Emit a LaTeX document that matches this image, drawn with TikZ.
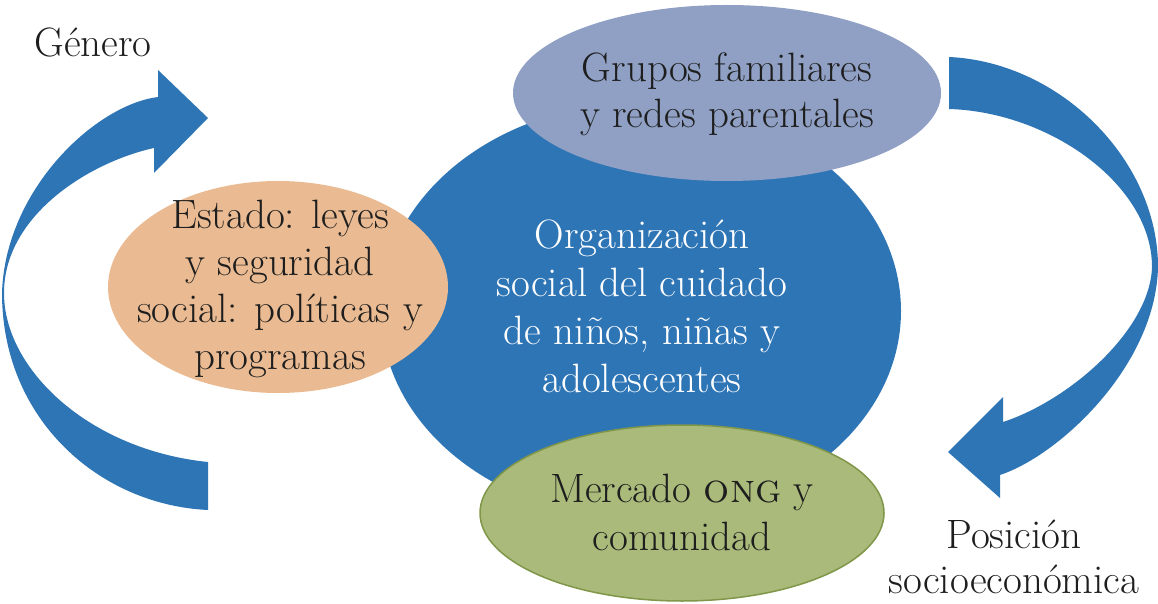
\documentclass[tikz,border=0pt]{standalone}
\usepackage{fontspec}
\usetikzlibrary{shapes.geometric}
\definecolor{blueA}{RGB}{46,117,182}
\definecolor{greyA}{RGB}{143,160,196}
\definecolor{orangeA}{RGB}{234,187,146}
\definecolor{greenA}{RGB}{169,186,122}
\definecolor{greenB}{RGB}{128,150,72}
\definecolor{inkA}{RGB}{30,30,30}
\newcommand{\mylines}[2]{{\fontsize{41}{#1}\selectfont\begin{tabular}[t]{@{}c@{}}#2\end{tabular}}}
\begin{document}
\begin{tikzpicture}[x=1pt,y=-1pt,
  blob/.style={ellipse, inner sep=0pt, draw=none},
  txt/.style={inner sep=0pt, anchor=base, text=inkA},
  wtxt/.style={inner sep=0pt, anchor=base, text=white},
  bigarrow/.style={fill=blueA, draw=none}]
\useasboundingbox (0,0) rectangle (1158,604);
% ellipses
\node[blob, fill=blueA, minimum width=520pt, minimum height=416pt] (centro) at (641,311) {};
\node[blob, fill=greyA, minimum width=428pt, minimum height=176pt] (familia) at (727,93) {};
\node[blob, fill=orangeA, minimum width=340pt, minimum height=212pt] (estado) at (278,287) {};
\node[blob, fill=greenA, draw=greenB, line width=1.5pt, minimum width=404pt, minimum height=176pt] (mercado) at (682,513) {};
% texts
\node[wtxt] (centroT) at (642,248) {\mylines{48.3}{Organización\\social del cuidado\\de niños, niñas y\\adolescentes}};
\node[txt] (familiaT) at (727,82) {\mylines{46}{Grupos familiares\\y redes parentales}};
\node[txt] (estadoT) at (280,228) {\mylines{47.3}{Estado: leyes\\y seguridad\\social: políticas y\\programas}};
\node[txt] (mercadoT) at (682,502) {\mylines{48}{Mercado \textsc{ong} y\\comunidad}};
\node[txt] (genero) at (93,57) {\mylines{46}{Género}};
\node[txt] (posicion) at (1014,548) {\mylines{45}{Posición\\socioeconómica}};
% left curved arrow
\path[bigarrow] (208,510) .. controls (100,505) and (2,420) .. (2,293)
  .. controls (5,190) and (95,105) .. (158,97)
  -- (158,70) -- (208,118) -- (154,173) -- (154,148)
  .. controls (90,162) and (4,215) .. (4,293)
  .. controls (4,370) and (90,450) .. (208,462) -- cycle;
% right curved arrow
\path[bigarrow] (949,57) .. controls (1060,62) and (1158,160) .. (1158,267)
  .. controls (1156,365) and (1060,455) .. (1000,475)
  -- (1000,498) -- (948,452) -- (1003,397) -- (1003,422)
  .. controls (1070,400) and (1150,330) .. (1152,267)
  .. controls (1152,185) and (1050,112) .. (949,109) -- cycle;
\end{tikzpicture}
\end{document}
